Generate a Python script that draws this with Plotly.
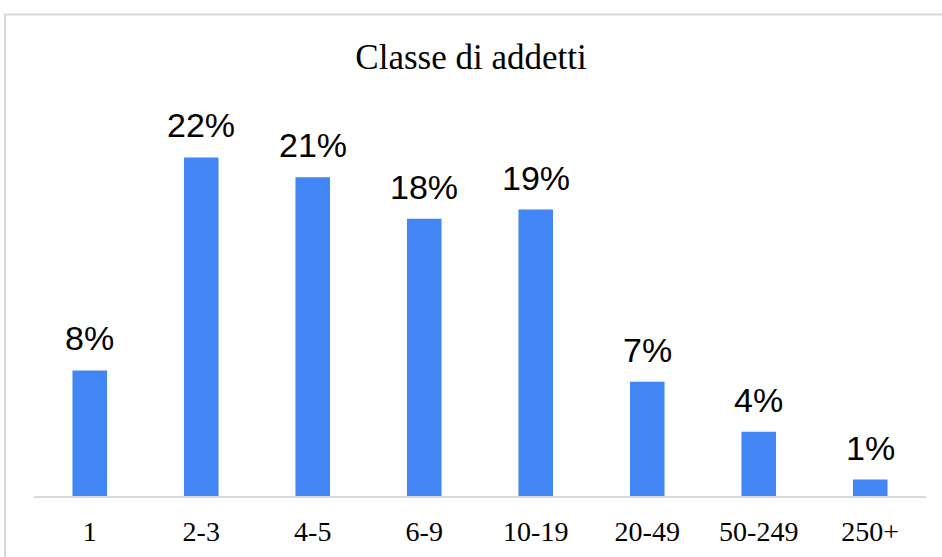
import plotly.graph_objects as go

# Dati
classi = ['1', '2-3', '4-5', '6-9', '10-19', '20-49', '50-249', '250+']
quote = [8.2, 22.1, 20.8, 18.1, 18.7, 7.45, 4.2, 1.07]

COR_BARRA = '#4285F4'
COR_BORDO = '#D9D9D9'

fig = go.Figure()

fig.add_trace(go.Bar(
    x=classi,
    y=quote,
    marker=dict(color=COR_BARRA, line=dict(width=0)),
    hoverinfo='x+y',
))

# Etichette percentuali sopra le barre (indice di categoria)
for i, q in enumerate(quote):
    fig.add_annotation(
        x=i, y=q,
        text=f"{q:.0f}%",
        showarrow=False,
        yanchor='bottom',
        yshift=11,
        font=dict(family="Liberation Sans, Arial, sans-serif", size=34, color='black'),
    )

# Cornice del grafico
fig.add_shape(
    type='rect', xref='paper', yref='paper',
    x0=-0.0325, x1=1.1, y0=-0.3, y1=1.257,
    line=dict(color=COR_BORDO, width=2),
    layer='below',
)

fig.update_layout(
    title=dict(
        text="Classe di addetti",
        x=0.5, xanchor='center',
        y=1 - 57 / 557, yanchor='middle', yref='container',
        font=dict(family="Liberation Serif, Times New Roman, serif", size=35, color='black'),
    ),
    xaxis=dict(
        type='category',
        automargin=False,
        showgrid=False,
        showline=True,
        linecolor=COR_BORDO,
        linewidth=1.5,
        ticks='outside',
        ticklen=10,
        tickcolor='rgba(0,0,0,0)',
        tickfont=dict(family="Liberation Serif, Times New Roman, serif", size=28, color='black'),
    ),
    yaxis=dict(
        range=[0, 25],
        automargin=False,
        showgrid=False,
        zeroline=False,
        showticklabels=False,
    ),
    bargap=0.69,
    width=942,
    height=557,
    margin=dict(l=34, r=16, t=113, b=61),
    paper_bgcolor='white',
    plot_bgcolor='white',
    showlegend=False,
)

fig.write_html("out.html", config={'displayModeBar': False},
               post_script="document.body.style.margin='0';")
